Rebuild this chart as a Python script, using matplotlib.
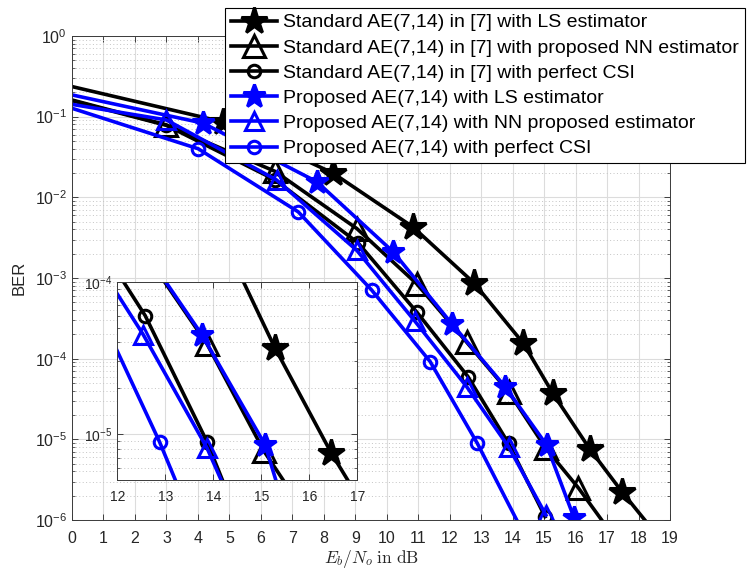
import matplotlib
matplotlib.use("Agg")
import matplotlib.pyplot as plt
from matplotlib.ticker import LogLocator, FixedLocator, NullFormatter, NullLocator

plt.rcParams["font.family"] = ["Liberation Sans", "DejaVu Sans"]
plt.rcParams["mathtext.default"] = "regular"
plt.rcParams["axes.unicode_minus"] = False

# ---- BER curves (Eb/No in dB, BER) ----
std_ls_x = [0.0, 4.80, 8.29, 10.83, 12.77, 14.34, 15.28, 16.46, 17.47, 18.20]
std_ls_y = [0.236, 0.086, 0.020, 4.3e-3, 8.7e-4, 1.55e-4, 3.7e-5, 7.5e-6, 2.25e-6, 1.0e-6]
std_ls_marks = [1, 2, 3, 4, 5, 6, 7, 8]

std_nn_x = [0.0, 3.00, 6.45, 9.05, 10.95, 12.54, 13.87, 15.06, 16.09, 16.83]
std_nn_y = [0.161, 0.079, 0.021, 4.1e-3, 8.5e-4, 1.6e-4, 3.9e-5, 7.7e-6, 2.5e-6, 1.0e-6]
std_nn_marks = [1, 2, 3, 4, 5, 6, 7, 8]

std_pc_x = [0.0, 3.00, 6.45, 9.10, 10.95, 12.58, 13.87, 15.03]
std_pc_y = [0.158, 0.078, 0.0165, 2.7e-3, 3.8e-4, 6.0e-5, 8.9e-6, 1.1e-6]
std_pc_marks = [1, 2, 3, 4, 5, 6, 7]

prop_ls_x = [0.0, 4.17, 7.78, 10.21, 12.07, 13.76, 15.08, 15.95]
prop_ls_y = [0.186, 0.083, 0.0156, 2.1e-3, 2.7e-4, 4.5e-5, 8.5e-6, 1.07e-6]
prop_ls_marks = [1, 2, 3, 4, 5, 6, 7]

prop_nn_x = [0.0, 3.00, 6.50, 9.05, 10.90, 12.54, 13.87, 15.06]
prop_nn_y = [0.142, 0.091, 0.0164, 2.2e-3, 2.9e-4, 4.5e-5, 8.1e-6, 1.15e-6]
prop_nn_marks = [1, 2, 3, 4, 5, 6, 7]

prop_pc_x = [0.0, 4.01, 7.19, 9.52, 11.38, 12.88, 14.13]
prop_pc_y = [0.127, 0.040, 6.6e-3, 7.1e-4, 9.2e-5, 8.9e-6, 1.0e-6]
prop_pc_marks = [1, 2, 3, 4, 5]

labels = [
    "Standard AE(7,14) in [7] with LS estimator",
    "Standard AE(7,14) in [7] with proposed NN estimator",
    "Standard AE(7,14) in [7] with perfect CSI",
    "Proposed AE(7,14) with LS estimator",
    "Proposed AE(7,14) with NN proposed estimator",
    "Proposed AE(7,14) with perfect CSI",
]

x_ticks = list(range(0, 20))
inset_x_ticks = [12, 13, 14, 15, 16, 17]

series = [
    (std_ls_x, std_ls_y, std_ls_marks, "black", "*", 20, "black"),
    (std_nn_x, std_nn_y, std_nn_marks, "black", "^", 16, "none"),
    (std_pc_x, std_pc_y, std_pc_marks, "black", "o", 9, "none"),
    (prop_ls_x, prop_ls_y, prop_ls_marks, "blue", "*", 17, "blue"),
    (prop_nn_x, prop_nn_y, prop_nn_marks, "blue", "^", 12.5, "none"),
    (prop_pc_x, prop_pc_y, prop_pc_marks, "blue", "o", 9, "none"),
]

AX_COLOR = "#262626"


def draw_curves(axis):
    handles = []
    for (xs, ys, marks, col, mk, ms, mfc), lab in zip(series, labels):
        h, = axis.plot(xs, ys, color=col, lw=2.6, marker=mk, ms=ms,
                       mfc=mfc, mec=col, mew=2.2, markevery=marks,
                       label=lab, clip_on=True)
        handles.append(h)
    return handles


def style_axis(axis, label_size, pad):
    axis.set_yscale("log")
    axis.tick_params(which="both", direction="in", top=True, right=True,
                     colors=AX_COLOR, labelsize=label_size)
    axis.tick_params(which="major", length=4, width=0.6)
    axis.tick_params(which="minor", length=2.5, width=0.5)
    axis.tick_params(axis="x", which="major", pad=pad)
    axis.grid(which="major", color="#dcdcdc", lw=0.8, ls="-")
    axis.grid(which="minor", color="#c4c4c4", lw=0.7, ls=(0, (1, 2.5)))
    axis.set_axisbelow(True)
    for sp in axis.spines.values():
        sp.set_color("#3a3a3a")
        sp.set_linewidth(0.7)


fig = plt.figure(figsize=(7.49, 5.72), dpi=100)

# ---- main axes ----
ax = fig.add_axes([0.0961, 0.0909, 0.7984, 0.8462])
handles = draw_curves(ax)
style_axis(ax, 11.5, 8)
ax.set_xlim(0, 19)
ax.set_ylim(1e-6, 1)
ax.xaxis.set_major_locator(FixedLocator(x_ticks))
ax.xaxis.set_minor_locator(NullLocator())
ax.yaxis.set_major_locator(LogLocator(base=10, numticks=10))
ax.yaxis.set_minor_locator(LogLocator(base=10, subs=range(2, 10), numticks=20))
ax.yaxis.set_minor_formatter(NullFormatter())
ax.set_ylabel("BER", fontsize=12, color=AX_COLOR, labelpad=6)
ax.set_xlabel(r"$\mathit{E}_{\mathit{b}}\mathrm{/}\mathit{N}_{\mathit{o}}\ \mathrm{in\ dB}$",
              fontsize=12.5, color=AX_COLOR, math_fontfamily="cm", labelpad=1)

leg = ax.legend(handles=handles, loc="upper right",
                bbox_to_anchor=(745 / 749, 1 - 8 / 572),
                bbox_transform=fig.transFigure, borderaxespad=0,
                fontsize=14, frameon=True, fancybox=False, framealpha=1,
                edgecolor="black", handlelength=2.4, handletextpad=0.3,
                borderpad=0.3, labelspacing=0.39)
leg.get_frame().set_linewidth(0.8)
leg.set_zorder(10)

# ---- zoomed inset ----
axi = fig.add_axes([0.1566, 0.1608, 0.3204, 0.3467])
draw_curves(axi)
style_axis(axi, 10, 7)
axi.set_facecolor("white")
axi.set_xlim(12, 17)
axi.set_ylim(5e-6, 1e-4)
axi.xaxis.set_major_locator(FixedLocator(inset_x_ticks))
axi.xaxis.set_minor_locator(NullLocator())
axi.yaxis.set_major_locator(LogLocator(base=10, numticks=10))
axi.yaxis.set_minor_locator(LogLocator(base=10, subs=range(2, 10), numticks=20))
axi.yaxis.set_minor_formatter(NullFormatter())
axi.set_zorder(5)

fig.savefig("out.png", dpi=100)
